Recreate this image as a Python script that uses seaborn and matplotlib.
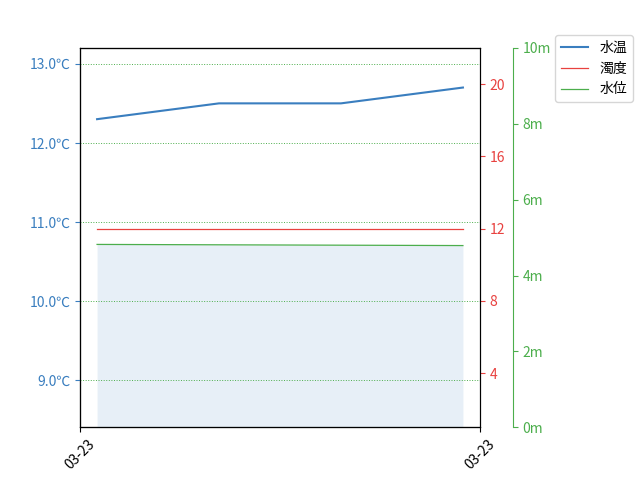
import matplotlib
matplotlib.use("Agg")
import matplotlib.pyplot as plt
import seaborn as sns
import pandas as pd
from matplotlib.ticker import FuncFormatter, FixedLocator
from matplotlib.lines import Line2D

plt.rcParams['font.family'] = ['Noto Sans CJK JP', 'DejaVu Sans']

# data
positions = [0, 1, 2, 3]
water_temp = [12.3, 12.5, 12.5, 12.7]
turbidity = [12.0, 12.0, 12.0, 12.0]
water_level = [4.82, 4.81, 4.80, 4.79]
x_tick_labels = ["03-23", "03-23"]
temp_ticks = [9.0, 10.0, 11.0, 12.0, 13.0]
turb_ticks = [4, 8, 12, 16, 20]
level_ticks = [0, 2, 4, 6, 8, 10]
series_names = ["水温", "濁度", "水位"]

df = pd.DataFrame({"x": positions, "temp": water_temp,
                   "turb": turbidity, "level": water_level})

BLUE = "#3a7ebf"
RED = "#e8413f"
GREEN = "#4cae4c"

fig = plt.figure(figsize=(6.4, 4.8), dpi=100)
ax = fig.add_subplot(111)
fig.subplots_adjust(left=0.125, right=0.75, top=0.9, bottom=0.11)

ax2 = ax.twinx()
ax3 = ax.twinx()
ax3.spines['right'].set_position(('axes', 1.0825))

# water level fill + line
ax3.fill_between(df["x"], 0, df["level"], color=BLUE, alpha=0.12, linewidth=0)
sns.lineplot(data=df, x="x", y="level", ax=ax3, color=GREEN, linewidth=0.9, legend=False)
sns.lineplot(data=df, x="x", y="turb", ax=ax2, color=RED, linewidth=0.9, legend=False)
sns.lineplot(data=df, x="x", y="temp", ax=ax, color=BLUE, linewidth=1.5, legend=False)

ax.set_zorder(3)
ax.patch.set_visible(False)

xmin, xmax = -0.14, 3.14
ax.set_xlim(xmin, xmax)
ax.xaxis.set_major_locator(FixedLocator([xmin, xmax]))
ax.set_xticklabels(x_tick_labels, rotation=45)

ax.set_ylim(8.405, 13.2)
ax.set_yticks(temp_ticks)
ax.yaxis.set_major_formatter(FuncFormatter(lambda v, p: f"{v:.1f}℃"))
ax.tick_params(axis='y', colors=BLUE)
ax.grid(axis='y', color=GREEN, linestyle=':', linewidth=0.7)

ax2.set_ylim(1, 22)
ax2.set_yticks(turb_ticks)
ax2.tick_params(axis='y', colors=RED)

ax3.set_ylim(0, 10)
ax3.set_yticks(level_ticks)
ax3.yaxis.set_major_formatter(FuncFormatter(lambda v, p: f"{int(v)}m"))
ax3.tick_params(axis='y', colors=GREEN)
ax3.spines['right'].set_color(GREEN)

for a in (ax, ax2, ax3):
    a.set_xlabel("")
    a.set_ylabel("")

handles = [Line2D([], [], color=BLUE, linewidth=1.5),
           Line2D([], [], color=RED, linewidth=0.9),
           Line2D([], [], color=GREEN, linewidth=0.9)]
fig.legend(handles, series_names, loc='upper left', bbox_to_anchor=(555/640, 1 - 35/480),
           borderaxespad=0)

fig.savefig("out.png", dpi=100)
